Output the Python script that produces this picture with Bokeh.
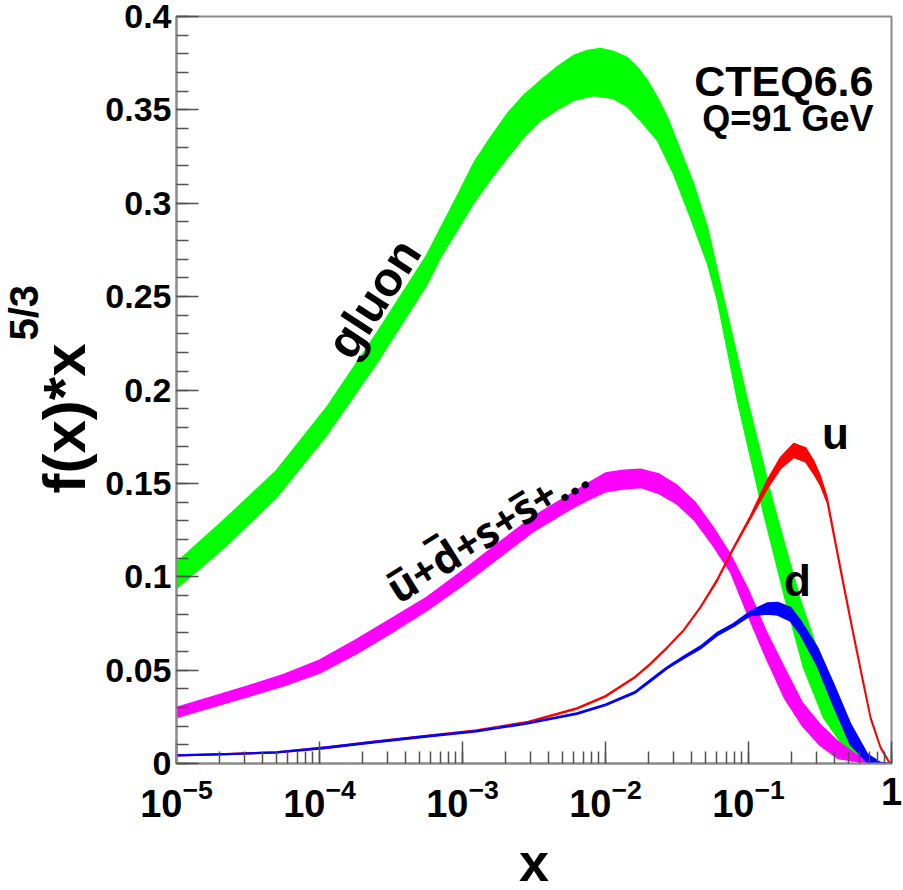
import numpy as np
from bokeh.plotting import figure
from bokeh.models import (Range1d, LogTicker, SingleIntervalTicker,
                          CustomJSTickFormatter, Label, Title)
from bokeh.embed import file_html
from bokeh.resources import INLINE

# ---------------- data ----------------
# gluon band: upper and lower edges
gluon_hi_x = [1e-5, 2.237e-5, 5.004e-5, 1.119e-4, 2.504e-4, 5.601e-4,
              7.017e-4, 9.08e-4, 1.193e-3, 1.570e-3, 2.064e-3, 2.671e-3,
              3.512e-3, 4.616e-3, 5.973e-3, 7.480e-3, 9.226e-3, 1.137e-2,
              1.425e-2, 1.674e-2, 1.966e-2, 2.310e-2, 2.714e-2, 3.345e-2,
              4.124e-2, 5.166e-2, 6.686e-2, 9.84e-2, 0.1472, 0.2310, 0.3345,
              0.4923, 0.6795, 0.8377, 1.0]
gluon_hi = [0.1076, 0.1317, 0.1569, 0.1906, 0.2303, 0.2720, 0.2865, 0.3031,
            0.3213, 0.3352, 0.3481, 0.3577, 0.3657, 0.3732, 0.3791, 0.3818,
            0.3829, 0.3813, 0.3780, 0.3727, 0.3657, 0.3566, 0.3459, 0.3282,
            0.3106, 0.2870, 0.2495, 0.1944, 0.1408, 0.0873, 0.0514, 0.0246,
            0.0016, 0.0, 0.0]
gluon_lo_x = [1e-5, 2.237e-5, 5.004e-5, 1.119e-4, 2.504e-4, 5.601e-4,
              7.017e-4, 9.08e-4, 1.193e-3, 1.570e-3, 2.064e-3, 2.671e-3,
              3.512e-3, 4.616e-3, 5.973e-3, 8.243e-3, 1.137e-2, 1.425e-2,
              1.757e-2, 2.310e-2, 2.988e-2, 3.929e-2, 5.166e-2, 6.070e-2,
              8.377e-2, 0.1213, 0.1815, 0.2424, 0.3345, 0.5424, 0.7128, 1.0]
gluon_lo = [0.0937, 0.1167, 0.1424, 0.1756, 0.2142, 0.2560, 0.2709, 0.2849,
            0.2999, 0.3127, 0.3245, 0.3352, 0.3443, 0.3502, 0.3550, 0.3577,
            0.3561, 0.3518, 0.3443, 0.3336, 0.3159, 0.2924, 0.2677, 0.2479,
            0.1944, 0.1408, 0.0873, 0.0514, 0.0246, 0.0016, 0.0, 0.0]

# sea quarks (ubar+dbar+s+sbar+...)
sea_x = [1e-5, 1.78e-5, 3.16e-5, 5.62e-5, 1e-4, 1.78e-4, 3.16e-4, 5.62e-4,
         1e-3, 1.78e-3, 3.16e-3, 5.62e-3, 7.5e-3, 1e-2, 1.33e-2, 1.78e-2,
         2.37e-2, 3.16e-2, 4.22e-2, 5.62e-2, 7.5e-2, 0.1, 0.133, 0.178,
         0.237, 0.316, 0.422, 0.562, 0.75, 1.0]
sea_hi = [0.0300, 0.0358, 0.0415, 0.0477, 0.0553, 0.0660, 0.0775, 0.0890,
          0.1032, 0.1180, 0.1325, 0.1440, 0.1500, 0.1555, 0.1570, 0.1575,
          0.1550, 0.1490, 0.1400, 0.1268, 0.1118, 0.0928, 0.0708, 0.0514,
          0.0327, 0.0210, 0.0119, 0.0049, 0.0008, 0.0]
sea_lo = [0.0246, 0.0302, 0.0358, 0.0416, 0.0484, 0.0584, 0.0698, 0.0819,
          0.0954, 0.1100, 0.1245, 0.1360, 0.1410, 0.1455, 0.1470, 0.1478,
          0.1445, 0.1390, 0.1300, 0.1170, 0.1024, 0.0788, 0.0564, 0.0352,
          0.0204, 0.0098, 0.0027, 0.0012, 0.0, 0.0]

# u quark
u_x = [1e-5, 2.24e-5, 5.0e-5, 1.12e-4, 2.5e-4, 5.6e-4, 1.25e-3, 2.8e-3,
       6.3e-3, 1.0e-2, 1.6e-2, 2.07e-2, 2.7e-2, 3.51e-2, 4.6e-2, 6.07e-2,
       7.9e-2, 0.103, 0.136, 0.168, 0.207, 0.251, 0.285, 0.318, 0.356,
       0.393, 0.46, 0.54, 0.637, 0.713, 0.838, 0.953, 1.0]
u_hi = [0.0045, 0.0052, 0.0061, 0.0088, 0.0121, 0.0150, 0.0180, 0.0223,
        0.0298, 0.0363, 0.0464, 0.0538, 0.0624, 0.0715, 0.0838, 0.0990,
        0.1162, 0.1325, 0.1520, 0.1640, 0.1714, 0.1690, 0.1622, 0.1540,
        0.1420, 0.1245, 0.0975, 0.0705, 0.0436, 0.0252, 0.0090, 0.0015, 0.0]
u_lo = [0.0041, 0.0048, 0.0057, 0.0082, 0.0115, 0.0144, 0.0174, 0.0217,
        0.0292, 0.0357, 0.0458, 0.0532, 0.0618, 0.0709, 0.0832, 0.0980,
        0.1152, 0.1310, 0.1475, 0.1580, 0.1639, 0.1615, 0.1553, 0.1490,
        0.1395, 0.1225, 0.0955, 0.0688, 0.0420, 0.0240, 0.0082, 0.0010, 0.0]

# d quark
d_x = [1e-5, 2.24e-5, 5.0e-5, 1.12e-4, 2.5e-4, 5.6e-4, 1.25e-3, 2.8e-3,
       6.3e-3, 1.0e-2, 1.6e-2, 2.07e-2, 2.7e-2, 3.51e-2, 4.6e-2, 6.07e-2,
       7.9e-2, 0.103, 0.136, 0.160, 0.197, 0.231, 0.304, 0.393, 0.516,
       0.679, 0.838, 1.0]
d_hi = [0.0045, 0.0052, 0.0061, 0.0088, 0.0119, 0.0148, 0.0176, 0.0217,
        0.0271, 0.0318, 0.0384, 0.0450, 0.0518, 0.0574, 0.0628, 0.0702,
        0.0750, 0.0815, 0.0860, 0.0862, 0.0835, 0.0766, 0.0621, 0.0428,
        0.0214, 0.0050, 0.0005, 0.0]
d_lo = [0.0041, 0.0048, 0.0057, 0.0082, 0.0113, 0.0142, 0.0170, 0.0211,
        0.0263, 0.0310, 0.0376, 0.0440, 0.0508, 0.0562, 0.0614, 0.0686,
        0.0734, 0.0792, 0.0800, 0.0795, 0.0762, 0.0690, 0.0520, 0.0310,
        0.0100, 0.0005, 0.0, 0.0]

y_ticks_interval = 0.05

# ---------------- figure ----------------
p = figure(frame_width=715, frame_height=747, x_axis_type="log",
           x_range=Range1d(1e-5, 1.0), y_range=Range1d(0.0, 0.4),
           output_backend="svg", toolbar_location=None,
           min_border_left=176, min_border_right=12,
           min_border_top=16, min_border_bottom=0)
p.background_fill_color = "white"
p.border_fill_color = "white"
p.outline_line_color = "#8a8a8a"
p.outline_line_width = 2
p.xgrid.visible = False
p.ygrid.visible = False

FONT = "Liberation Sans"


def band(x_hi, hi, x_lo, lo, color):
    xs = list(x_hi) + list(x_lo)[::-1]
    ys = list(hi) + list(lo)[::-1]
    p.patch(xs, ys, fill_color=color, line_color=color, line_width=1.5,
            line_join="round")


band(gluon_hi_x, gluon_hi, gluon_lo_x, gluon_lo, "#00ff00")
band(sea_x, sea_hi, sea_x, sea_lo, "#ff00ff")
band(u_x, u_hi, u_x, u_lo, "#ff0000")
band(d_x, d_hi, d_x, d_lo, "#0000ff")

# ---------------- axes ----------------
xa = p.xaxis[0]
xa.ticker = LogTicker(num_minor_ticks=10)
xa.major_label_overrides = {1: "1"}
ya = p.yaxis[0]
ya.ticker = SingleIntervalTicker(interval=y_ticks_interval, num_minor_ticks=5)
ya.formatter = CustomJSTickFormatter(
    code="return (Math.round(tick*100)/100).toString();")

for ax in (xa, ya):
    ax.major_tick_in = 22
    ax.major_tick_out = 0
    ax.minor_tick_in = 12
    ax.minor_tick_out = 0
    ax.axis_line_color = "#8a8a8a"
    ax.axis_line_width = 2
    ax.major_tick_line_color = "#505050"
    ax.minor_tick_line_color = "#505050"
    ax.major_tick_line_width = 1.5
    ax.minor_tick_line_width = 1.5
    ax.major_label_text_font = FONT
    ax.major_label_text_font_style = "bold"
    ax.major_label_text_color = "black"

xa.major_label_text_font_size = "38px"
xa.major_label_standoff = 14
ya.major_label_text_font_size = "34px"
ya.major_label_standoff = 5

# x axis title
xa.axis_label = "x"
xa.axis_label_text_font = FONT
xa.axis_label_text_font_style = "bold"
xa.axis_label_text_font_size = "54px"
xa.axis_label_text_color = "black"
xa.axis_label_standoff = 12

# y axis title: "f(x)*x" with superscript "5/3"
t_main = Title(text="f(x)*x", align="left", offset=270, standoff=10,
               vertical_align="bottom", text_font=FONT,
               text_font_style="bold", text_font_size="60px",
               text_color="black")
t_sup = Title(text="5/3", align="left", offset=423, standoff=-44,
              vertical_align="bottom", text_font=FONT,
              text_font_style="bold", text_font_size="40px",
              text_color="black")
p.add_layout(t_main, "left")
p.add_layout(t_sup, "left")


def lab(x, y, text, size, angle=0, align="center", baseline="middle",
        font=FONT):
    p.add_layout(Label(x=x, y=y, text=text, text_font=font,
                       text_font_style="bold", text_font_size=size,
                       angle=angle, angle_units="deg", text_align=align,
                       text_baseline=baseline, text_color="black"))


lab(0.748, 0.3657, "CTEQ6.6", "43px", align="right", baseline="alphabetic")
lab(0.748, 0.3454, "Q=91 GeV", "36px", align="right", baseline="alphabetic")
lab(2.39e-4, 0.249, "gluon", "48px", angle=57)
lab(1.47e-3, 0.1248, "u\u0305+d\u0305+s+s\u0305+...", "42px", angle=32,
    font="Noto Sans")
lab(0.406, 0.1767, "u", "44px", baseline="alphabetic")
lab(0.220, 0.098, "d", "44px", baseline="alphabetic")

open("out.html", "w").write(file_html(p, INLINE))
